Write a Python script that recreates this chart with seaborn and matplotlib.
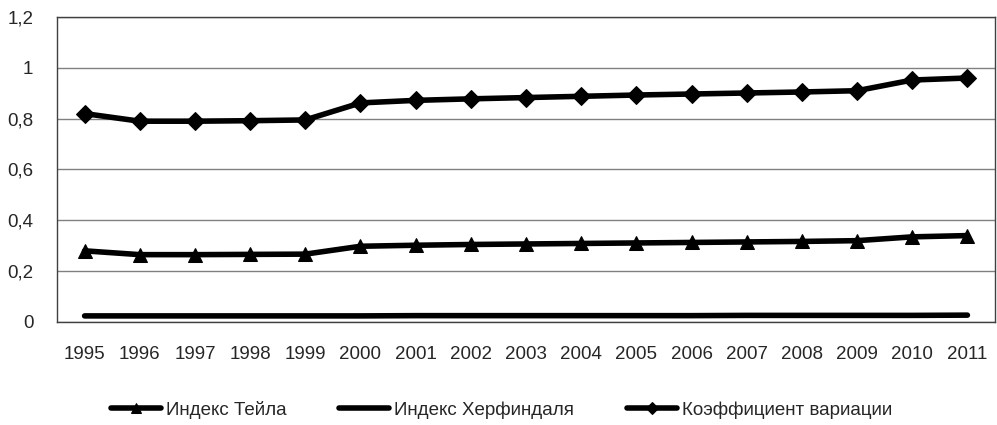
import numpy as np
import pandas as pd
import matplotlib
matplotlib.use('Agg')
import matplotlib.pyplot as plt
import seaborn as sns

sns.set_style('white')
plt.rcParams['font.family'] = ['Liberation Sans', 'DejaVu Sans']

# datos
anios = [str(a) for a in range(1995, 2012)]
teil = [0.280, 0.265, 0.265, 0.266, 0.267, 0.298, 0.302, 0.305, 0.307, 0.309,
        0.311, 0.313, 0.315, 0.317, 0.320, 0.335, 0.340]
herf = [0.024, 0.024, 0.024, 0.024, 0.024, 0.024, 0.025, 0.025, 0.025, 0.025,
        0.025, 0.025, 0.026, 0.026, 0.026, 0.026, 0.027]
koef = [0.820, 0.790, 0.790, 0.792, 0.795, 0.862, 0.872, 0.878, 0.883, 0.888,
        0.893, 0.897, 0.901, 0.905, 0.910, 0.952, 0.960]
nombres = ['Индекс Тейла', 'Индекс Херфиндаля', 'Коэффициент вариации']

pos = np.arange(len(anios))
fig = plt.figure(figsize=(9.97, 4.25), dpi=100)
ax = fig.add_axes([57/997, 1 - 322/425, 938/997, 305/425])

sns.lineplot(x=pos, y=teil, ax=ax, color='black', lw=4, marker='^', markersize=10,
             markeredgecolor='black', label=nombres[0])
sns.lineplot(x=pos, y=herf, ax=ax, color='black', lw=4, label=nombres[1],
             solid_capstyle='round')
sns.lineplot(x=pos, y=koef, ax=ax, color='black', lw=4, marker='D', markersize=9,
             markeredgecolor='black', label=nombres[2])

ax.set_xlim(-0.5, len(anios) - 0.5)
ax.set_ylim(0, 1.2)
ax.set_xticks(pos)
ax.set_xticklabels(anios)
yt = np.arange(0, 1.21, 0.2)
ax.set_yticks(yt)
ax.set_yticklabels(['0', '0,2', '0,4', '0,6', '0,8', '1', '1,2'])
ax.tick_params(axis='both', labelsize=13.5, length=0)
ax.tick_params(axis='x', pad=17)
ax.tick_params(axis='y', pad=17)
ax.yaxis.grid(True, color='#808080', lw=1)
ax.set_axisbelow(True)
for s in ax.spines.values():
    s.set_color('#404040')
    s.set_linewidth(1)

h, l = ax.get_legend_handles_labels()
ax.get_legend().remove()
fig.legend(h, l, loc='center', bbox_to_anchor=(0.503, 15/425), ncol=3, frameon=False,
           fontsize=13.5, handlelength=2.67, columnspacing=2.8, handletextpad=0.27,
           markerscale=0.7)

fig.savefig('out.png', dpi=100)
